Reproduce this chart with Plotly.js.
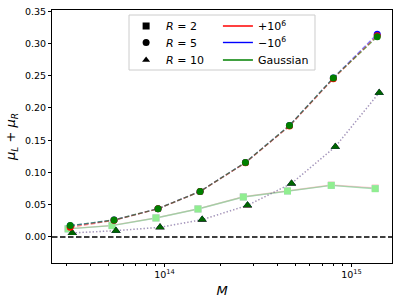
<!DOCTYPE html>
<html>
<head>
<meta charset="utf-8">
<script src="https://cdn.plot.ly/plotly-3.0.1.min.js"></script>
<style>html,body{margin:0;padding:0;background:#fff;}#chart{width:399px;height:304px;}</style>
</head>
<body>
<div id="chart"></div>
<script>
// Mass bin centres (slightly offset per R, as in the reference)
var M_R2  = [3.05e13, 5.24e13, 9.0e13, 1.51e14, 2.64e14, 4.55e14, 7.8e14, 1.34e15];
var M_R5  = [3.13e13, 5.37e13, 9.23e13, 1.55e14, 2.71e14, 4.66e14, 8.0e14, 1.374e15];
var M_R10 = [3.21e13, 5.5e13, 9.46e13, 1.59e14, 2.78e14, 4.78e14, 8.2e14, 1.408e15];

// R = 2 (squares)
var R2_plus  = [0.0128, 0.0178, 0.0295, 0.0435, 0.0622, 0.0716, 0.0805, 0.0760];
var R2_minus = [0.0124, 0.0175, 0.0294, 0.0433, 0.0619, 0.0712, 0.0799, 0.0750];
var R2_gauss = [0.0124, 0.0175, 0.0294, 0.0433, 0.0619, 0.0712, 0.0799, 0.0748];
// R = 5 (circles)
var R5_plus  = [0.0150, 0.0258, 0.0436, 0.0704, 0.1150, 0.1720, 0.2455, 0.3120];
var R5_minus = [0.0172, 0.0262, 0.0438, 0.0706, 0.1155, 0.1728, 0.2466, 0.3145];
var R5_gauss = [0.0175, 0.0263, 0.0438, 0.0706, 0.1155, 0.1728, 0.2466, 0.3105];
// R = 10 (triangles)
var R10_plus  = [0.0060, 0.0096, 0.0148, 0.0266, 0.0488, 0.0828, 0.1398, 0.2236];
var R10_minus = [0.0062, 0.0097, 0.0149, 0.0268, 0.0490, 0.0830, 0.1400, 0.2238];
var R10_gauss = [0.0062, 0.0097, 0.0149, 0.0268, 0.0490, 0.0830, 0.1400, 0.2238];

var xTickVals = [1e14, 1e15];
var xTickText = ['10<sup>14</sup>', '10<sup>15</sup>'];
var xMinorVals = [3e13,4e13,5e13,6e13,7e13,8e13,9e13,2e14,3e14,4e14,5e14,6e14,7e14,8e14,9e14];

var legendR = ['<i>R</i> = 2', '<i>R</i> = 5', '<i>R</i> = 10'];
var legendV = ['+10<sup>6</sup>', '\u221210<sup>6</sup>', 'Gaussian'];

var FONT = 'DejaVu Sans, Liberation Sans, sans-serif';
var dashR2 = 'solid', dashR5 = '4.8px,2.1px', dashR10 = '1.3px,2.1px';

function ln(x, y, color, dash) {
  return {x: x, y: y, type: 'scatter', mode: 'lines', showlegend: false, hoverinfo: 'skip',
    line: {color: color, width: 1.4, dash: dash}};
}
function mk(x, y, color, symbol, size) {
  return {x: x, y: y, type: 'scatter', mode: 'markers', showlegend: false, hoverinfo: 'skip',
    marker: {color: color, symbol: symbol, size: size, line: {width: 0}}};
}

var traces = [
  // R = 2
  ln(M_R2, R2_plus,  'rgba(255,0,0,0.18)', dashR2),
  ln(M_R2, R2_minus, 'rgba(0,0,255,0.12)', dashR2),
  ln(M_R2, R2_gauss, 'rgba(120,220,120,0.55)', dashR2),
  mk(M_R2, R2_plus,  '#ffc4c8', 'square', 7),
  mk(M_R2, R2_minus, '#c8c8ff', 'square', 7),
  mk(M_R2, R2_gauss, '#90ee90', 'square', 7),
  // R = 10
  ln(M_R10, R10_plus,  'rgba(255,0,0,0.22)', dashR10),
  ln(M_R10, R10_gauss, 'rgba(0,128,0,0.22)', dashR10),
  ln(M_R10, R10_minus, 'rgba(100,100,255,0.4)', dashR10),
  mk(M_R10, R10_plus,  '#8b0000', 'triangle-up', 8),
  mk(M_R10, R10_minus, '#00008b', 'triangle-up', 8),
  mk(M_R10, R10_gauss, '#006400', 'triangle-up', 8),
  // R = 5
  ln(M_R5, R5_minus, 'rgba(0,0,255,0.5)', dashR5),
  ln(M_R5, R5_plus,  'rgba(255,0,0,0.5)', dashR5),
  ln(M_R5, R5_gauss, 'rgba(0,128,0,0.5)', dashR5),
  mk(M_R5, R5_minus, '#0000ff', 'circle', 7),
  mk(M_R5, R5_plus,  '#ff0000', 'circle', 7),
  mk(M_R5, R5_gauss, '#008000', 'circle', 7)
];

// legend entries: one legend per row for exact placement
var rowY = [0.9367, 0.8716, 0.8024];
var symR = ['square', 'circle', 'triangle-up'];
var colV = ['red', 'blue', 'green'];
var layoutLegends = {};
for (var i = 0; i < 3; i++) {
  var idA = 'legend' + (i === 0 ? '' : (i + 1));
  var idB = 'legend' + (i + 4);
  traces.push({x: [null], y: [null], type: 'scatter', mode: 'markers', name: legendR[i], legend: idA,
    marker: {color: 'black', symbol: symR[i], size: 7}, showlegend: true});
  traces.push({x: [null], y: [null], type: 'scatter', mode: 'lines', name: legendV[i], legend: idB,
    line: {color: colV[i], width: 1.4}, showlegend: true});
  layoutLegends[idA] = {x: 0.218, y: rowY[i], xanchor: 'left', yanchor: 'middle',
    bgcolor: 'rgba(0,0,0,0)', borderwidth: 0, font: {size: 11}};
  layoutLegends[idB] = {x: 0.488, y: rowY[i], xanchor: 'left', yanchor: 'middle',
    bgcolor: 'rgba(0,0,0,0)', borderwidth: 0, font: {size: 11}};
}

var layout = {
  width: 399, height: 304,
  margin: {l: 52, r: 7, t: 10, b: 41, pad: 0},
  paper_bgcolor: 'white', plot_bgcolor: 'white',
  font: {family: FONT, size: 9.5, color: 'black'},
  showlegend: true,
  xaxis: {
    type: 'log', range: [13.398, 15.217],
    showline: true, mirror: true, linecolor: 'black', linewidth: 1,
    showgrid: false, zeroline: false,
    ticks: 'outside', ticklen: 3, tickwidth: 1, tickcolor: 'black',
    tickmode: 'array', tickvals: xTickVals, ticktext: xTickText,
    tickfont: {size: 9.5},
    minor: {tickmode: 'array', tickvals: xMinorVals, ticks: 'outside', ticklen: 2, tickcolor: 'black', showgrid: false},
    title: {text: '<i>M</i>', font: {size: 13}, standoff: 6}
  },
  yaxis: {
    range: [-0.0405, 0.352],
    showline: true, mirror: true, linecolor: 'black', linewidth: 1,
    showgrid: false, zeroline: false,
    ticks: 'outside', ticklen: 3, tickwidth: 1, tickcolor: 'black',
    dtick: 0.05, tick0: 0, tickformat: '.2f',
    tickfont: {size: 9.5},
    title: {text: '<i>μ</i><sub><i>L</i></sub> + <i>μ</i><sub><i>R</i></sub>', font: {size: 13}, standoff: 6}
  },
  shapes: [
    {type: 'line', xref: 'paper', x0: 0, x1: 1, yref: 'y', y0: 0, y1: 0,
     line: {color: 'black', width: 1.5, dash: '5.5px,2.5px'}, layer: 'below'},
    {type: 'rect', xref: 'paper', yref: 'paper', x0: 0.2265, x1: 0.7735, y0: 0.7628, y1: 0.9802,
     line: {color: '#cccccc', width: 1}, fillcolor: 'rgba(255,255,255,0.8)', layer: 'above'}
  ]
};
for (var k in layoutLegends) layout[k] = layoutLegends[k];

Plotly.newPlot('chart', traces, layout, {displayModeBar: false, staticPlot: true});
</script>
</body>
</html>
